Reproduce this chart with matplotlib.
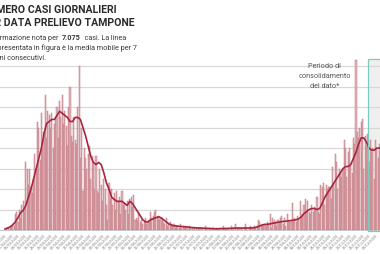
import matplotlib
matplotlib.use("Agg")
import matplotlib.pyplot as plt
import numpy as np
import pandas as pd
from matplotlib.patches import Rectangle

# daily cases by sampling date (one value per day)
START_DATE = "2020-02-22"
DAILY_CASES = [
    0, 1, 0, 1, 2, 1, 3, 2, 8, 9,
    4, 10, 6, 12, 14, 9, 33, 30, 22, 30,
    21, 18, 25, 37, 30, 53, 50, 34, 57, 40,
    48, 66, 45, 58, 56, 50, 57, 40, 52, 54,
    60, 45, 63, 55, 66, 52, 58, 51, 41, 60,
    70, 46, 43, 55, 44, 42, 60, 80, 35, 50,
    19, 40, 35, 30, 37, 41, 25, 36, 32, 20,
    36, 19, 18, 30, 22, 14, 25, 20, 12, 5,
    23, 15, 20, 12, 18, 10, 19, 14, 16, 8,
    19, 12, 13, 10, 14, 8, 15, 16, 11, 17,
    5, 6, 5, 9, 4, 5, 3, 4, 6, 3,
    4, 5, 9, 6, 7, 9, 10, 6, 7, 5,
    6, 5, 4, 3, 6, 2, 3, 4, 2, 2,
    3, 1, 2, 2, 1, 3, 1, 2, 1, 2,
    1, 0, 2, 1, 1, 0, 1, 1, 0, 1,
    1, 0, 1, 0, 2, 1, 0, 1, 0, 0,
    1, 0, 0, 1, 0, 1, 0, 1, 2, 0,
    1, 0, 1, 0, 2, 0, 1, 3, 0, 1,
    1, 0, 1, 0, 1, 3, 1, 0, 1, 2,
    1, 0, 2, 1, 2, 5, 4, 2, 3, 2,
    3, 2, 4, 3, 8, 1, 6, 5, 4, 2,
    5, 4, 6, 7, 3, 6, 2, 8, 5, 4,
    4, 13, 5, 6, 4, 7, 5, 14, 6, 8,
    12, 15, 10, 14, 9, 8, 12, 9, 11, 10,
    16, 9, 8, 22, 21, 23, 12, 22, 20, 21,
    21, 15, 31, 23, 37, 33, 20, 30, 28, 26,
    30, 44, 40, 26, 38, 40, 32, 28, 45, 42,
    83, 48, 45, 50, 53, 54, 30, 46, 41, 47,
    33, 44, 38, 40, 25, 44, 40, 35, 42, 38,
]

# 7-day moving average, read every 2 days
MA_STEP = 2
MOVING_AVG = [
    0.5, 1, 1.5, 2.5, 4, 6, 8.5, 9.5, 12, 16,
    20, 25, 30, 35, 40, 47, 52, 53, 54, 54,
    56, 58, 57, 56, 55, 53, 53, 55, 55, 54,
    50, 46, 41, 36, 33, 32, 33, 32, 28, 23,
    20, 16, 15, 14, 14, 14, 13, 12, 14, 13,
    11, 9, 7, 5, 4, 4, 5, 5.5, 6, 6.5,
    6, 5, 4, 3, 2.5, 2, 2, 1.8, 1.7, 1.6,
    1.5, 1.3, 1.2, 1.1, 1, 1, 0.9, 0.8, 0.8, 0.7,
    0.7, 0.6, 0.6, 0.7, 0.7, 0.7, 0.8, 0.8, 0.9, 1,
    1, 0.9, 1, 1, 1, 1, 1.2, 1.5, 2, 2.5,
    2.7, 2.8, 3, 3.3, 3.5, 3.8, 4, 4.2, 4.3, 4.5,
    4.6, 4.8, 5, 5.5, 6.5, 8, 9, 10, 10.5, 10.5,
    10, 10.5, 13, 16, 18, 20, 22, 24, 26, 28,
    30, 31, 31, 32, 35, 38, 42, 45, 45, 43,
    40, 39, 39, 40, 40,
]

CONSOLIDATION_FROM = 279.5
GRID_TICKS = [0, 10, 20, 30, 40, 50, 60, 70, 80]
TOTAL_CASES = "7.075"
TITLE_LINES = ["NUMERO CASI GIORNALIERI", "PER DATA PRELIEVO TAMPONE"]
NOTE_LABEL = "Periodo di\nconsolidamento\ndel dato*"

BAR_FILL = "#e2b3b7"
BAR_EDGE = "#c27a83"
LINE_COLOR = "#a8253f"
TEAL = "#7ccab9"
TEXT_DARK = "#2b2b2b"

W, H = 380, 255


def main() -> None:
    fig = plt.figure(figsize=(W / 100, H / 100), dpi=100)
    fig.patch.set_facecolor("white")

    days = np.arange(len(DAILY_CASES))
    ma_days = np.arange(len(MOVING_AVG)) * MA_STEP
    dates = pd.date_range(START_DATE, periods=len(DAILY_CASES), freq="D")

    # axes spans full width; one day ~1.3 px, first bar at x=5 px
    px_day = 1.3
    x0 = -5 / px_day
    x1 = x0 + W / px_day
    base = (H - 231) / H
    top = (H - 57) / H
    ax = fig.add_axes([0, base, 1, top - base])
    ax.set_xlim(x0, x1)
    ax.set_ylim(0, 85)
    ax.set_facecolor("none")

    ax.bar(days, DAILY_CASES, width=0.78, color=BAR_FILL, edgecolor=BAR_EDGE,
           linewidth=0.35, zorder=2)
    ax.plot(ma_days, MOVING_AVG, color=LINE_COLOR, linewidth=1.2, zorder=3)

    ax.add_patch(Rectangle((CONSOLIDATION_FROM, -0.6), 40, 84.1,
                           facecolor="#9a9a9a", alpha=0.15, edgecolor="none",
                           zorder=1, clip_on=False))
    ax.add_patch(Rectangle((CONSOLIDATION_FROM, -0.6), 40, 84.1,
                           facecolor="none", edgecolor=TEAL, linewidth=0.9,
                           zorder=4, clip_on=False))
    ax.text(246, 75.5, NOTE_LABEL, ha="center", va="center", fontsize=5.2,
            color="#555555", family="Roboto", linespacing=1.6)

    ax.set_yticks(GRID_TICKS)
    ax.set_yticklabels([])
    ax.tick_params(axis="y", length=0)
    ax.grid(axis="y", color="#d8d8d8", linewidth=0.9, zorder=0)
    for side in ("top", "right", "left"):
        ax.spines[side].set_visible(False)
    ax.spines["bottom"].set_color("#bdbdbd")
    ax.spines["bottom"].set_linewidth(0.6)

    tick_days = days[::5]
    ax.set_xticks(tick_days)
    ax.set_xticklabels(dates[::5].strftime("%d/%m/%Y"), rotation=45,
                       ha="right", rotation_mode="anchor", fontsize=2.5,
                       color="#7a7a7a")
    ax.tick_params(axis="x", length=0, pad=1.5)

    # header text, partly cut at the left edge like the source graphic
    title_left = -18 / W
    fig.text(title_left, 1 - 10 / H, TITLE_LINES[0], fontsize=7.6, weight="bold",
             family="Roboto", color=TEXT_DARK, va="center")
    fig.text(title_left, 1 - 23 / H, TITLE_LINES[1], fontsize=7.6, weight="bold",
             family="Roboto", color=TEXT_DARK, va="center")

    left = -13 / W
    sub_kw = dict(fontsize=5.25, family="Roboto", color="#3a3a3a", va="baseline")
    t1 = fig.text(left, 1 - 39.5 / H, "Informazione nota per  ", **sub_kw)
    t2 = fig.text(0, 0, TOTAL_CASES, **dict(sub_kw, weight="bold"))
    t3 = fig.text(0, 0, "  casi. La linea", **sub_kw)
    fig.canvas.draw()
    r = fig.canvas.get_renderer()
    bb1 = t1.get_window_extent(r)
    t2.set_position((bb1.x1 / W, 1 - 39.5 / H))
    bb2 = t2.get_window_extent(r)
    t3.set_position((bb2.x1 / W, 1 - 39.5 / H))
    fig.text(left, 1 - 49.5 / H, "rappresentata in figura è la media mobile per 7", **sub_kw)
    fig.text(left, 1 - 59.5 / H, "giorni consecutivi.", **sub_kw)

    fig.savefig("out.png", dpi=100)
    plt.close(fig)


if __name__ == "__main__":
    main()
